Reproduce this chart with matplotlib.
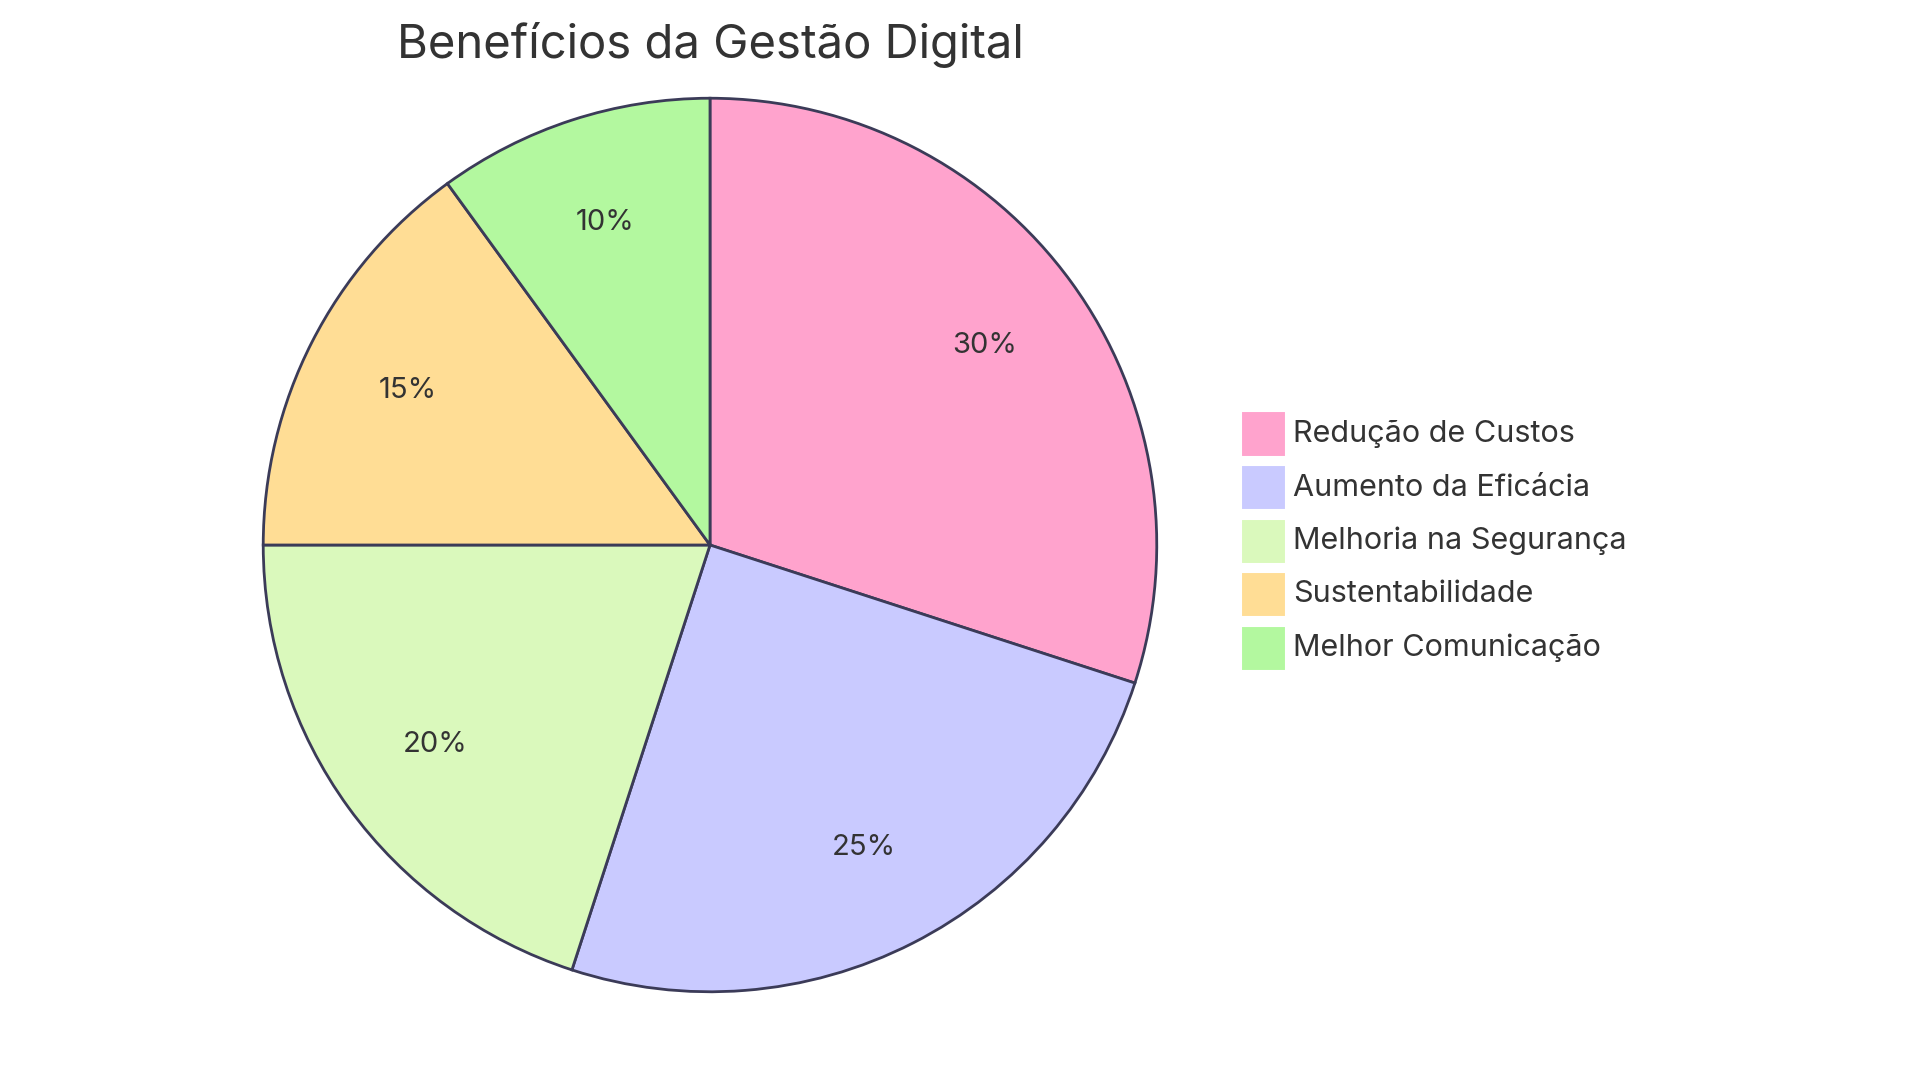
import matplotlib.pyplot as plt
from matplotlib.patches import Rectangle

categories = ["Redução de Custos", "Aumento da Eficácia", "Melhoria na Segurança",
              "Sustentabilidade", "Melhor Comunicação"]
values = [30, 25, 20, 15, 10]
colors = ["#FFA3CD", "#C9CAFF", "#DAF9BC", "#FFDD95", "#B3F89F"]
title = "Benefícios da Gestão Digital"

plt.rcParams['font.family'] = ['Inter', 'DejaVu Sans']

W, H = 1920, 1083
fig = plt.figure(figsize=(W / 100, H / 100), dpi=100)

# pie axes placed so the circle matches the reference
cx, cy, r = 710, 545, 449
ax = fig.add_axes([(cx - r) / W, (H - cy - r) / H, 2 * r / W, 2 * r / H])
ax.pie(values, colors=colors, startangle=90, counterclock=False,
       autopct='%1.0f%%', pctdistance=0.76,
       wedgeprops=dict(edgecolor='#3B3B58', linewidth=2),
       textprops=dict(fontsize=21, color='#333333'))
ax.set_xlim(-1.005, 1.005)
ax.set_ylim(-1.005, 1.005)
ax.set_aspect('equal')

fig.text(cx / W, 1 - 45 / H, title, ha='center', va='center', fontsize=34, color='#333333')

# legend drawn by hand
sq = 45
x0 = 1241
y_first = 434
step = 53.5
for i, (name, c) in enumerate(zip(categories, colors)):
    yc = y_first + i * step
    fig.patches.append(Rectangle((x0 / W, (H - yc - sq / 2) / H), sq / W, sq / H,
                                 transform=fig.transFigure, facecolor=c,
                                 edgecolor='white', linewidth=1.5))
    fig.text((x0 + sq + 7) / W, (H - yc) / H, name, ha='left', va='center',
             fontsize=22, color='#333333')

fig.savefig("out.png", dpi=100)
